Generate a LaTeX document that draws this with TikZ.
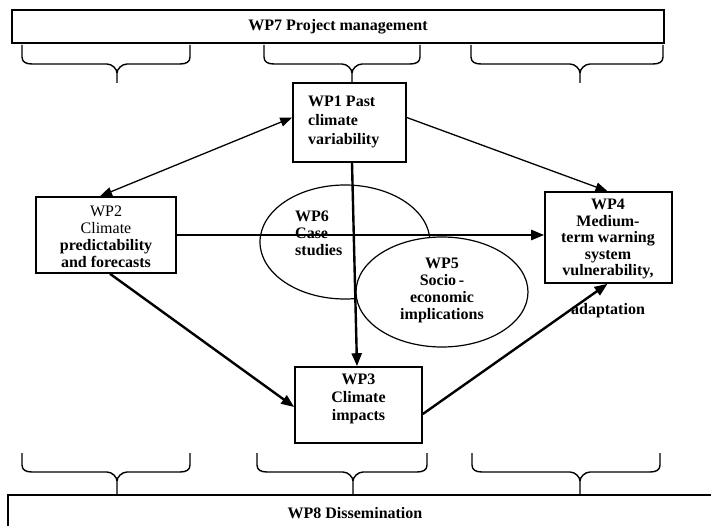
\documentclass[tikz,border=0pt]{standalone}
\usepackage{fontspec}
\setmainfont{Liberation Serif}
\usetikzlibrary{arrows.meta,calc,shapes.geometric}
\newcommand{\wpbrace}[7]{%
 \draw[bracestyle] (#1,#4) -- (#1,#5-7) .. controls (#1,#5-2) and (#1+4,#5) .. (#1+10,#5) -- (#3-10,#5) .. controls (#3-5,#5) and (#3,#6-4) .. (#3,#6) -- (#3,#7);
 \draw[bracestyle] (#2,#4) -- (#2,#5-7) .. controls (#2,#5-2) and (#2-4,#5) .. (#2-10,#5) -- (#3+10,#5) .. controls (#3+5,#5) and (#3,#6-4) .. (#3,#6);}
\begin{document}
\begin{tikzpicture}[x=1pt,y=-1pt,
 box/.style={draw,line width=1.6pt,rectangle,inner sep=0pt},
 txt/.style={font=\fontsize{16}{17}\selectfont\bfseries,align=center,inner sep=0pt},
 oval/.style={draw,line width=1.2pt,ellipse,fill=white,inner sep=0pt},
 thickarrow/.style={line width=2.4pt,-{Triangle[length=13pt,width=10pt]}},
 thinarrow/.style={line width=1.3pt,-{Triangle[length=12pt,width=9pt]}},
 bracestyle/.style={line width=1.4pt}]
\useasboundingbox (0,0) rectangle (711,526);
\clip (0,0) rectangle (711,526);
% top and bottom bars
\node[box,txt,minimum width=652pt,minimum height=33pt] (wp7) at (338,26.5) {WP7 Project management};
\draw[line width=1.6pt] (8,540) -- (8,495) -- (720,495);
\node[txt] (wp8) at (355,513) {WP8 Dissemination};
% braces
\wpbrace{22}{190}{117}{45}{64}{73}{83}
\wpbrace{264}{420}{352}{45}{64}{73}{83}
\wpbrace{471}{663}{580}{45}{64}{73}{83}
\wpbrace{22}{190}{117}{453}{472}{481}{495}
\wpbrace{257}{427}{353}{453}{472}{481}{495}
\wpbrace{472}{660}{580}{453}{472}{481}{495}
% ellipses
\node[oval,minimum width=170pt,minimum height=114pt] (wp6) at (345,242) {};
\node[txt,align=left,anchor=west] (wp6t) at (295,233) {WP6\\Case\\studies};
\node[oval,minimum width=172pt,minimum height=110pt] (wp5) at (442,292) {};
\node[txt] (wp5t) at (442,290) {WP5\\Socio\,-\\economic\\implications};
% boxes
\node[box,minimum width=113pt,minimum height=79pt] (wp1) at (349.5,122.5) {};
\node[txt,align=left,anchor=west,font=\fontsize{16}{19}\selectfont\bfseries] (wp1t) at (308,122) {WP1 Past\\climate\\variability};
\node[box,minimum width=140pt,minimum height=76pt] (wp2) at (106,235) {};
\node[txt] (wp2t) at (106,237) {\mdseries WP2\\\mdseries Climate\\predictability\\and forecasts};
\node[box,minimum width=127pt,minimum height=91pt] (wp4) at (608.5,237.5) {};
\node[txt,font=\fontsize{16}{16.5}\selectfont\bfseries] (wp4t) at (608,239) {WP4\\Medium-\\term warning\\system\\vulnerability,};
\node[txt] (adapt) at (608,311) {adaptation};
\node[box,minimum width=127pt,minimum height=76pt] (wp3) at (358.5,405) {};
\node[txt,font=\fontsize{16}{18}\selectfont\bfseries] (wp3t) at (358.5,399) {WP3\\Climate\\impacts};
% connectors
\draw[thinarrow,{Triangle[length=12pt,width=9pt]}-{Triangle[length=12pt,width=9pt]}] ([xshift=-6pt]wp2.north) -- ([yshift=5pt]wp1.west);
\draw[thinarrow] ([yshift=5pt]wp1.east) -- ([xshift=-1pt]wp4.north);
\draw[thickarrow] ([xshift=2.5pt]wp1.south) -- ([xshift=-1.5pt]wp3.north);
\draw[thickarrow] (wp2.east) -- (wp2.east -| wp4.west);
\draw[thickarrow] ([xshift=4pt]wp2.south) -- ([yshift=-2pt]wp3.west);
\draw[thickarrow] ([yshift=-9pt]wp3.east) -- ([xshift=-1pt]wp4.south);
\end{tikzpicture}
\end{document}
